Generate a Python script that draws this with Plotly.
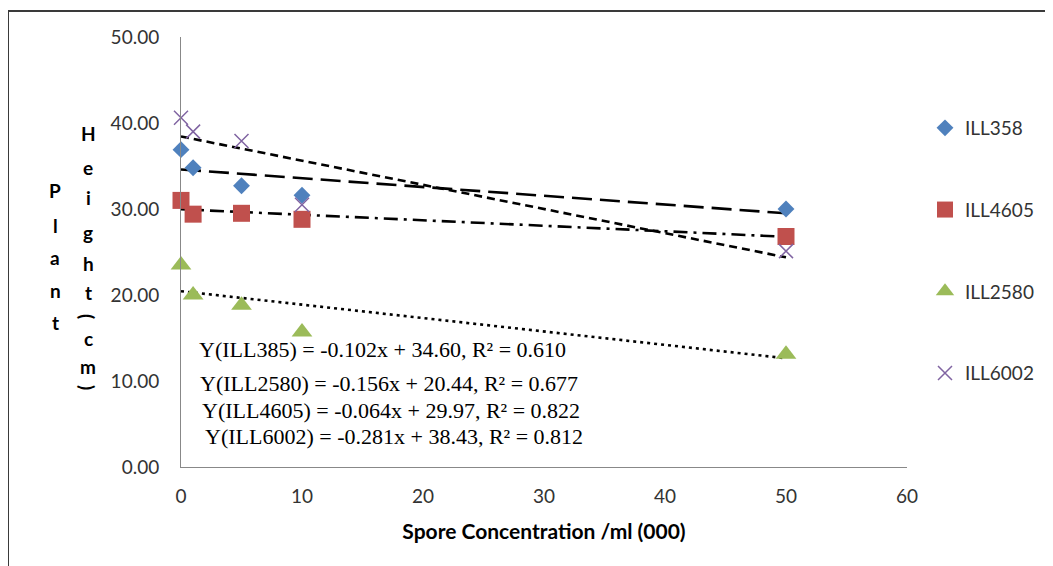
import plotly.graph_objects as go

# ---- data ----
spore_conc = [0, 1, 5, 10, 50]
series_names = ["ILL358", "ILL4605", "ILL2580", "ILL6002"]
ill358 = [36.9, 34.8, 32.7, 31.6, 30.0]
ill4605 = [31.0, 29.4, 29.5, 28.8, 26.8]
ill2580 = [23.5, 20.0, 18.8, 15.7, 13.1]
ill6002 = [40.6, 39.0, 37.9, 30.5, 25.1]
# trendline equations shown on the chart (slope, intercept)
trend_slopes = [-0.102, -0.064, -0.156, -0.281]
trend_intercepts = [34.60, 29.97, 20.44, 38.43]
equation_labels = [
    "Y(ILL385) = -0.102x + 34.60, R² = 0.610",
    "Y(ILL2580) = -0.156x + 20.44, R² = 0.677",
    "Y(ILL4605) = -0.064x + 29.97, R² = 0.822",
    "Y(ILL6002) = -0.281x + 38.43, R² = 0.812",
]
y_ticks = [0, 10, 20, 30, 40, 50]
y_tick_labels = ["0.00", "10.00", "20.00", "30.00", "40.00", "50.00"]
x_ticks = [0, 10, 20, 30, 40, 50, 60]
x_title = "Spore Concentration /ml (000)"
y_title_col1 = "Plant"
y_title_col2 = "Height(cm)"

values = [ill358, ill4605, ill2580, ill6002]
colors = ["#4F81BD", "#C0504D", "#9BBB59", "#8064A2"]
symbols = ["diamond", "square", "triangle-up", "x-thin"]
sizes = [13, 17, 18, 14]
dashes = ["20px,8px", "14px,6px,3px,6px", "3px,4px", "8px,5px"]

OFF = 8  # page body margin added by the browser
W, H = 1053, 566
# target plot area in page pixels: x 181..907, y 37..467
L = 181 - OFF
T = 37 - OFF
PW, PH = 907 - 181, 467 - 37
R = W - L - PW
B = H - T - PH

def px2u(px):
    return (px - OFF - L) / PW

def py2v(py):
    return 1 - (py - OFF - T) / PH

fig = go.Figure()

# trendlines
x_end = [min(spore_conc), max(spore_conc)]
for i, name in enumerate(series_names):
    fig.add_trace(go.Scatter(
        x=x_end,
        y=[trend_intercepts[i] + trend_slopes[i] * xx for xx in x_end],
        mode="lines",
        line=dict(color="black", width=2.6, dash=dashes[i]),
        showlegend=False, hoverinfo="skip", cliponaxis=False,
    ))

# markers
for i, name in enumerate(series_names):
    mk = dict(color=colors[i], size=sizes[i], symbol=symbols[i])
    if symbols[i] == "x-thin":
        mk["line"] = dict(color=colors[i], width=1.5)
    else:
        mk["line"] = dict(width=0)
    fig.add_trace(go.Scatter(
        x=spore_conc, y=values[i], mode="markers", name=name,
        marker=mk, cliponaxis=False, legendgroup=name,
    ))

annotations = []
eq_px = [(197, 349), (198, 383), (200, 410), (203, 436)]
for (ex, ey), txt in zip(eq_px, equation_labels):
    annotations.append(dict(
        x=px2u(ex), y=py2v(ey), xref="paper", yref="paper",
        xanchor="left", yanchor="middle", text=txt, showarrow=False,
        font=dict(family="Liberation Serif", size=22, color="black"),
    ))

# stacked y-axis title letters
col1_y = [190, 225, 257, 290, 322]
for ch, yy in zip(y_title_col1, col1_y):
    annotations.append(dict(
        x=px2u(55), y=py2v(yy), xref="paper", yref="paper",
        xanchor="center", yanchor="middle", text="<b>%s</b>" % ch, showarrow=False,
        font=dict(family="Lato", size=19, color="black"),
    ))
col2_y = [133, 167, 197, 233, 263, 292, 316, 338, 366, 387]
for ch, yy in zip(y_title_col2, col2_y):
    paren = ch in "()"
    annotations.append(dict(
        x=px2u(88), y=py2v(yy), xref="paper", yref="paper",
        xanchor="center", yanchor="middle", text="<b>%s</b>" % ch, showarrow=False,
        textangle=90 if paren else 0,
        font=dict(family="Lato", size=19, color="black"),
    ))

shapes = [dict(
    type="rect", xref="paper", yref="paper",
    x0=px2u(8), x1=px2u(1070), y0=py2v(590), y1=py2v(11),
    line=dict(color="#3a3a3a", width=2), layer="below",
)]

fig.update_layout(
    width=W, height=H,
    margin=dict(l=L, r=R, t=T, b=B, autoexpand=False),
    paper_bgcolor="white", plot_bgcolor="white",
    font=dict(family="Lato", size=19, color="#333333"),
    xaxis=dict(
        range=[0, 60], tickvals=x_ticks, showgrid=False, zeroline=False,
        showline=True, linecolor="#888888", linewidth=1,
        ticks="outside", ticklen=12, tickcolor="rgba(0,0,0,0)",
        tickfont=dict(family="Lato", size=19, color="#333333"),
        title=dict(text="<b>%s</b>" % x_title, standoff=18,
                   font=dict(family="Lato", size=21, color="black")),
    ),
    yaxis=dict(
        range=[0, 50], tickvals=y_ticks, ticktext=y_tick_labels,
        showgrid=False, zeroline=False,
        showline=True, linecolor="#888888", linewidth=1,
        ticks="outside", ticklen=17, tickcolor="rgba(0,0,0,0)",
        tickfont=dict(family="Lato", size=19, color="#333333"),
    ),
    legend=dict(
        x=px2u(925), xanchor="left", y=py2v(109), yanchor="top",
        tracegroupgap=54, font=dict(family="Lato", size=19, color="#333333"),
        bgcolor="rgba(0,0,0,0)", itemsizing="trace",
    ),
    annotations=annotations,
    shapes=shapes,
)

fig.write_html("out.html")
